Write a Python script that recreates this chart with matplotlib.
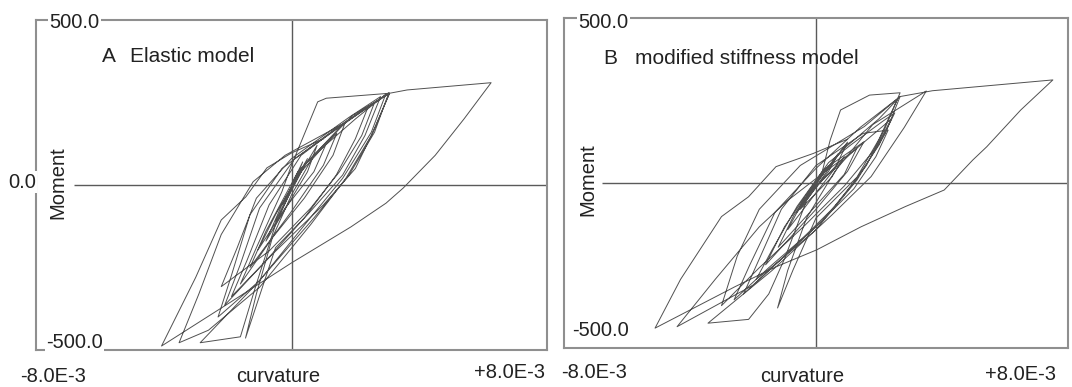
import numpy as np
import matplotlib
matplotlib.use("Agg")
import matplotlib.pyplot as plt

plt.rcParams['font.family'] = ['Liberation Sans', 'DejaVu Sans']

# ---------------- data (curvature in 1e-3 units, moment) ----------------
curv_A_e3 = [0.0, 0.35, 0.1, -0.3, 0.0, 0.5, 0.2, -0.5,
             0.0, 0.8, 0.5, -0.8,
             -0.3, 0.3, 1.09, 0.7, -0.2, -1.05,
             -0.5, 0.4, 1.42, 1.0, 0.0, -1.3,
             -0.8, 0.2, 1.69, 1.3, 0.4, -0.6, -1.6,
             -1.1, -0.3, 0.0, 0.82, 1.09, 3.07, 2.6, 2.0, 1.0, -0.6, -1.88,
             -1.4, -0.7, 0.3, 1.6, 2.4, 2.0, 1.4, 0.4, -0.9, -2.09,
             -1.6, -1.0, 0.1, 1.5, 2.6, 2.2, 1.5, 0.6, -0.7, -2.2,
             -1.7, -1.1, 0.0, 1.8, 2.79, 2.3, 1.6, 0.5, -0.5, -1.44,
             -1.1, -0.6, 0.0, 0.7, 2.0, 2.95, 2.5, 1.6, 0.5, -1.0, -2.3,
             -1.9, -1.3, -0.3, 1.3, 3.05, 2.6, 1.8, 0.7, -1.1, -2.86,
             -1.6, -1.1, -0.5, 0.3, 1.9, 3.07,
             2.5, 1.7, 0.6, -1.0, -2.6, -3.52,
             -2.9, -2.2, -1.2, -0.2, 1.64, 3.07, 3.62, 6.25,
             5.4, 4.5, 3.5, 2.96, 1.86, 0.0, -1.65, -4.07,
             -3.0, -2.2, -1.43, -0.77, 0.0, 1.0]
moment_A = [0, 70, 10, -60, -5, 80, 20, -110,
            -10, 120, 40, -170,
            -60, 40, 126, 40, -70, -197,
            -90, 60, 157, 60, -80, -250,
            -140, 40, 192, 90, -40, -160, -300,
            -190, -20, 60, 252, 263, 278, 170, 50, -60, -210, -338,
            -230, -60, 90, 185, 237, 140, 30, -100, -240, -364,
            -240, -70, 80, 175, 250, 150, 40, -70, -200, -308,
            -190, -40, 80, 205, 268, 150, 30, -90, -190, -464,
            -330, -160, -30, 90, 200, 275, 160, 20, -110, -290, -400,
            -280, -90, 50, 165, 280, 160, 30, -100, -300, -478,
            -460, -300, -120, 50, 210, 278,
            150, 20, -120, -310, -440, -478,
            -330, -150, 10, 90, 187, 278, 288, 310,
            200, 90, -9, -55, -127, -236, -339, -488,
            -280, -106, -36, 52, 97, 140]

curv_B_e3 = [0.0, 0.4, 0.1, -0.3, 0.0, 0.7, 0.4, -0.6, -0.2, 1.0, 0.6, -0.9,
             -0.4, 0.3, 0.9, 0.5, -0.5,
             -0.1, 1.3, 0.9, -1.2,
             -0.7, 0.3, 1.52, 1.0, 0.0, -1.6,
             -1.0, 0.2, 0.45, 0.78, 1.70, 2.67, 2.2, 1.6, 0.6, -1.0, -2.3,
             -1.8, -1.1, 0.0, 1.5, 2.29, 1.9, 1.2, 0.0, -1.5, -2.6,
             -2.1, -1.3, 0.0, 1.4, 2.6, 2.0, 1.3, 0.0, -0.73, -1.22,
             -0.9, -0.3, 0.6, 1.8, 3.5, 2.8, 1.75, 0.5, -1.4, -3.43,
             -2.14, -1.5, -1.0, -0.3, 0.8, 2.0, 2.67, 2.2, 1.3, 0.0, -1.2, -1.9,
             -1.4, -0.6, 0.4, 1.1, 2.1, 2.5, 2.0, 1.2, 0.2, -2.0, -4.41,
             -3.2, -1.8, -0.9, 0.3, 1.2, 2.4, 1.9, 0.9, -0.4, -1.8, -3.0,
             -2.5, -1.8, -0.5, 1.53, 2.67, 3.70, 7.52,
             6.50, 5.42, 4.98, 4.07, 2.83, 1.43, 0.02, -1.27, -2.57, -5.11,
             -4.3, -3.0, -2.14, -1.27, -0.09, 1.0]
moment_B = [0, 60, 10, -50, 0, 100, 40, -100, -30, 140, 50, -160,
            -60, 20, 90, 20, -90,
            -20, 120, 30, -220,
            -110, 50, 141, 40, -90, -280,
            -150, 40, 147, 250, 301, 309, 190, 60, -80, -250, -380,
            -260, -90, 60, 170, 181, 90, -20, -150, -290, -400,
            -280, -100, 50, 190, 290, 150, 20, -120, -298, -428,
            -300, -120, 40, 200, 315, 190, 22, -110, -300, -480,
            -467, -380, -260, -60, 110, 220, 296, 170, 10, -160, -270, -330,
            -230, -80, 70, 130, 210, 240, 130, 0, -130, -350, -492,
            -330, -150, -60, 40, 110, 220, 120, -10, -150, -290, -420,
            -250, -90, 60, 193, 296, 316, 353,
            250, 124, 79, -24, -81, -150, -229, -287, -355, -497,
            -330, -115, -47, 56, 101, 150]

x_range = (-8.0e-3, 8.0e-3)
ylim_A = (-500, 500)
ylim_B = (-565, 565)

# ---------------- figure ----------------
W, H = 1072, 387
fig = plt.figure(figsize=(W / 100, H / 100), dpi=100)
fig.patch.set_facecolor('white')


def fx(px):
    return px / W


def fy(py):
    return 1 - py / H


axA = fig.add_axes([fx(36), fy(350), fx(547) - fx(36), fy(20) - fy(350)])
axB = fig.add_axes([fx(564), fy(348), fx(1068) - fx(564), fy(18) - fy(348)])

frame_col = '#8f8f8f'
line_col = '#505050'
axis_col = '#5a5a5a'

for ax, cx, my, yl in [(axA, curv_A_e3, moment_A, ylim_A),
                       (axB, curv_B_e3, moment_B, ylim_B)]:
    ax.plot(np.array(cx) * 1e-3, my, color=line_col, lw=0.7, zorder=3)
    ax.set_xlim(*x_range)
    ax.set_ylim(*yl)
    ax.hlines(0, -6.8e-3, 8e-3, color=axis_col, lw=1.0, zorder=2)
    ax.axvline(0, color=axis_col, lw=1.0, zorder=2)
    ax.set_xticks([])
    ax.set_yticks([])
    for s in ax.spines.values():
        s.set_color(frame_col)
        s.set_linewidth(1.5)

fs = 14.5
tc = '#222222'
bb = dict(facecolor='white', edgecolor='none', pad=1.0)


def t(px, py, s, ha='left', rot=0, box=False, size=fs):
    fig.text(fx(px), fy(py), s, ha=ha, va='center', rotation=rot,
             fontsize=size, color=tc, bbox=bb if box else None, zorder=10)


# Panel A
t(49, 22, '500.0', box=True)
t(8, 182, '0.0', box=True)
t(46, 343, '-500.0', box=True)
t(20, 376, '-8.0E-3')
t(278, 377, 'curvature', ha='center')
t(545, 373, '+8.0E-3', ha='right')
t(58, 183, 'Moment', ha='center', rot=90)
t(102, 57, 'A', size=15)
t(130, 57, 'Elastic model', size=15)

# Panel B
t(578, 22, '500.0', box=True)
t(572, 330, '-500.0', box=True)
t(561, 373, '-8.0E-3')
t(802, 376, 'curvature', ha='center')
t(1056, 374, '+8.0E-3', ha='right')
t(588, 180, 'Moment', ha='center', rot=90)
t(603, 58, 'B', size=15)
t(635, 58, 'modified stiffness model', size=15)

fig.savefig('out.png', dpi=100)
